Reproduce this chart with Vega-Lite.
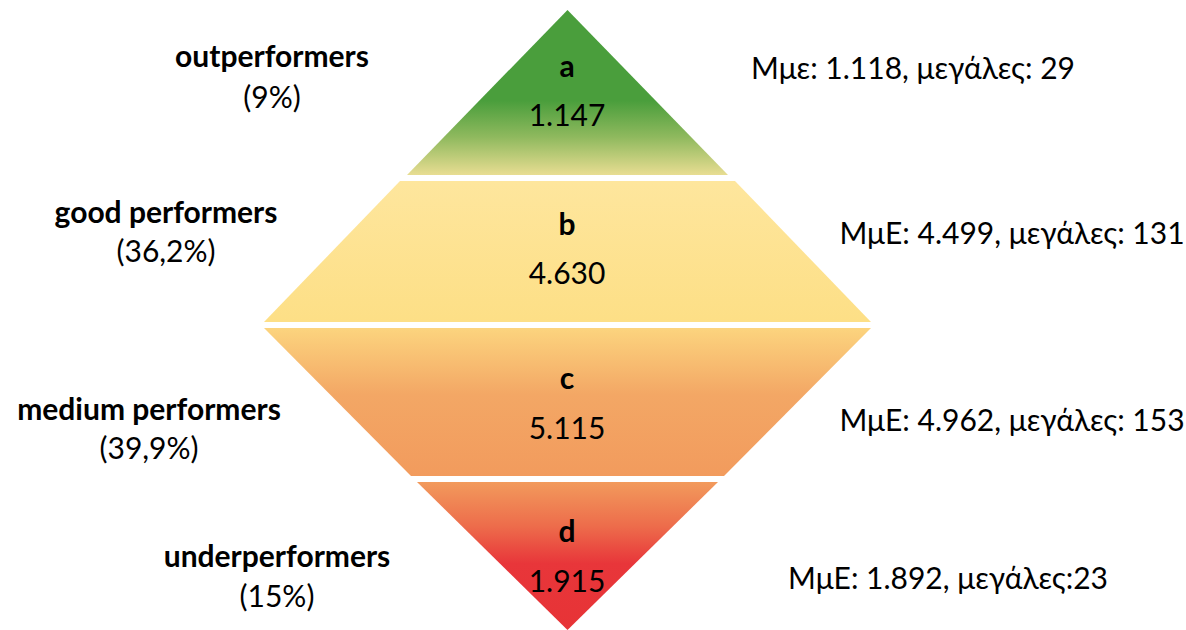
{
  "$schema": "https://vega.github.io/schema/vega-lite/v6.json",
  "width": 1186,
  "height": 630,
  "autosize": {"type": "fit", "contains": "padding"},
  "padding": 0,
  "background": "white",
  "config": {"view": {"stroke": null}},
  "datasets": {
    "shapes": [
      {"band": "a", "y": 10, "xl": 567.5, "xr": 567.5},
      {"band": "a", "y": 175, "xl": 407, "xr": 728},
      {"band": "b", "y": 181, "xl": 400, "xr": 735},
      {"band": "b", "y": 322, "xl": 264, "xr": 871},
      {"band": "c", "y": 328, "xl": 264, "xr": 871},
      {"band": "c", "y": 476, "xl": 411, "xr": 724},
      {"band": "d", "y": 482, "xl": 417, "xr": 718},
      {"band": "d", "y": 630, "xl": 567.5, "xr": 567.5}
    ],
    "labels": [
      {"text": "outperformers", "x": 272, "y": 58, "style": "bold"},
      {"text": "(9%)", "x": 272, "y": 99, "style": "normal"},
      {"text": "good performers", "x": 166, "y": 214, "style": "bold"},
      {"text": "(36,2%)", "x": 166, "y": 253, "style": "normal"},
      {"text": "medium performers", "x": 149, "y": 411, "style": "bold"},
      {"text": "(39,9%)", "x": 149, "y": 450, "style": "normal"},
      {"text": "underperformers", "x": 277, "y": 558, "style": "bold"},
      {"text": "(15%)", "x": 277, "y": 598, "style": "normal"},
      {"text": "a", "x": 567, "y": 68, "style": "bold"},
      {"text": "1.147", "x": 567, "y": 117, "style": "normal"},
      {"text": "b", "x": 567, "y": 226, "style": "bold"},
      {"text": "4.630", "x": 567, "y": 275, "style": "normal"},
      {"text": "c", "x": 567, "y": 380, "style": "bold"},
      {"text": "5.115", "x": 567, "y": 430, "style": "normal"},
      {"text": "d", "x": 567, "y": 533, "style": "bold"},
      {"text": "1.915", "x": 567, "y": 583, "style": "normal"},
      {"text": "Μμε: 1.118, μεγάλες: 29", "x": 913, "y": 70, "style": "normal"},
      {"text": "ΜμΕ: 4.499, μεγάλες: 131", "x": 1012, "y": 235, "style": "normal"},
      {"text": "ΜμΕ: 4.962, μεγάλες: 153", "x": 1012, "y": 422, "style": "normal"},
      {"text": "ΜμΕ: 1.892, μεγάλες:23", "x": 948, "y": 580, "style": "normal"}
    ]
  },
  "layer": [
    {
      "data": {"name": "shapes"},
      "transform": [{"filter": "datum.band === 'a'"}],
      "mark": {"type": "area", "orient": "horizontal", "color": {"gradient": "linear", "x1": 0, "y1": 0, "x2": 0, "y2": 1, "stops": [
        {"offset": 0, "color": "#4a9e3c"}, {"offset": 0.55, "color": "#4a9e3c"}, {"offset": 0.77, "color": "#8fb95e"}, {"offset": 1, "color": "#e8dd92"}]}},
      "encoding": {
        "y": {"field": "y", "type": "quantitative", "scale": {"domain": [0, 630], "reverse": true, "nice": false, "zero": false}, "axis": null},
        "x": {"field": "xl", "type": "quantitative", "scale": {"domain": [0, 1186], "nice": false, "zero": false}, "axis": null},
        "x2": {"field": "xr"}
      }
    },
    {
      "data": {"name": "shapes"},
      "transform": [{"filter": "datum.band === 'b'"}],
      "mark": {"type": "area", "orient": "horizontal", "color": {"gradient": "linear", "x1": 0, "y1": 0, "x2": 0, "y2": 1, "stops": [
        {"offset": 0, "color": "#fee69d"}, {"offset": 1, "color": "#fddf86"}]}},
      "encoding": {
        "y": {"field": "y", "type": "quantitative", "scale": {"domain": [0, 630], "reverse": true, "nice": false, "zero": false}, "axis": null},
        "x": {"field": "xl", "type": "quantitative", "scale": {"domain": [0, 1186], "nice": false, "zero": false}, "axis": null},
        "x2": {"field": "xr"}
      }
    },
    {
      "data": {"name": "shapes"},
      "transform": [{"filter": "datum.band === 'c'"}],
      "mark": {"type": "area", "orient": "horizontal", "color": {"gradient": "linear", "x1": 0, "y1": 0, "x2": 0, "y2": 1, "stops": [
        {"offset": 0, "color": "#fcd47e"}, {"offset": 0.45, "color": "#f3a765"}, {"offset": 1, "color": "#f29b5d"}]}},
      "encoding": {
        "y": {"field": "y", "type": "quantitative", "scale": {"domain": [0, 630], "reverse": true, "nice": false, "zero": false}, "axis": null},
        "x": {"field": "xl", "type": "quantitative", "scale": {"domain": [0, 1186], "nice": false, "zero": false}, "axis": null},
        "x2": {"field": "xr"}
      }
    },
    {
      "data": {"name": "shapes"},
      "transform": [{"filter": "datum.band === 'd'"}],
      "mark": {"type": "area", "orient": "horizontal", "color": {"gradient": "linear", "x1": 0, "y1": 0, "x2": 0, "y2": 1, "stops": [
        {"offset": 0, "color": "#f29a5c"}, {"offset": 0.3, "color": "#ed6c4b"}, {"offset": 0.55, "color": "#e8363a"}, {"offset": 1, "color": "#e73336"}]}},
      "encoding": {
        "y": {"field": "y", "type": "quantitative", "scale": {"domain": [0, 630], "reverse": true, "nice": false, "zero": false}, "axis": null},
        "x": {"field": "xl", "type": "quantitative", "scale": {"domain": [0, 1186], "nice": false, "zero": false}, "axis": null},
        "x2": {"field": "xr"}
      }
    },
    {
      "data": {"name": "labels"},
      "transform": [{"filter": "datum.style === 'bold'"}],
      "mark": {"type": "text", "font": "Lato", "fontSize": 30, "fontWeight": "bold", "align": "center", "baseline": "middle", "color": "#000000"},
      "encoding": {
        "y": {"field": "y", "type": "quantitative", "scale": {"domain": [0, 630], "reverse": true, "nice": false, "zero": false}, "axis": null},
        "x": {"field": "x", "type": "quantitative", "scale": {"domain": [0, 1186], "nice": false, "zero": false}, "axis": null},
        "text": {"field": "text"}
      }
    },
    {
      "data": {"name": "labels"},
      "transform": [{"filter": "datum.style === 'normal'"}],
      "mark": {"type": "text", "font": "Lato", "fontSize": 30, "align": "center", "baseline": "middle", "color": "#000000"},
      "encoding": {
        "y": {"field": "y", "type": "quantitative", "scale": {"domain": [0, 630], "reverse": true, "nice": false, "zero": false}, "axis": null},
        "x": {"field": "x", "type": "quantitative", "scale": {"domain": [0, 1186], "nice": false, "zero": false}, "axis": null},
        "text": {"field": "text"}
      }
    }
  ]
}
